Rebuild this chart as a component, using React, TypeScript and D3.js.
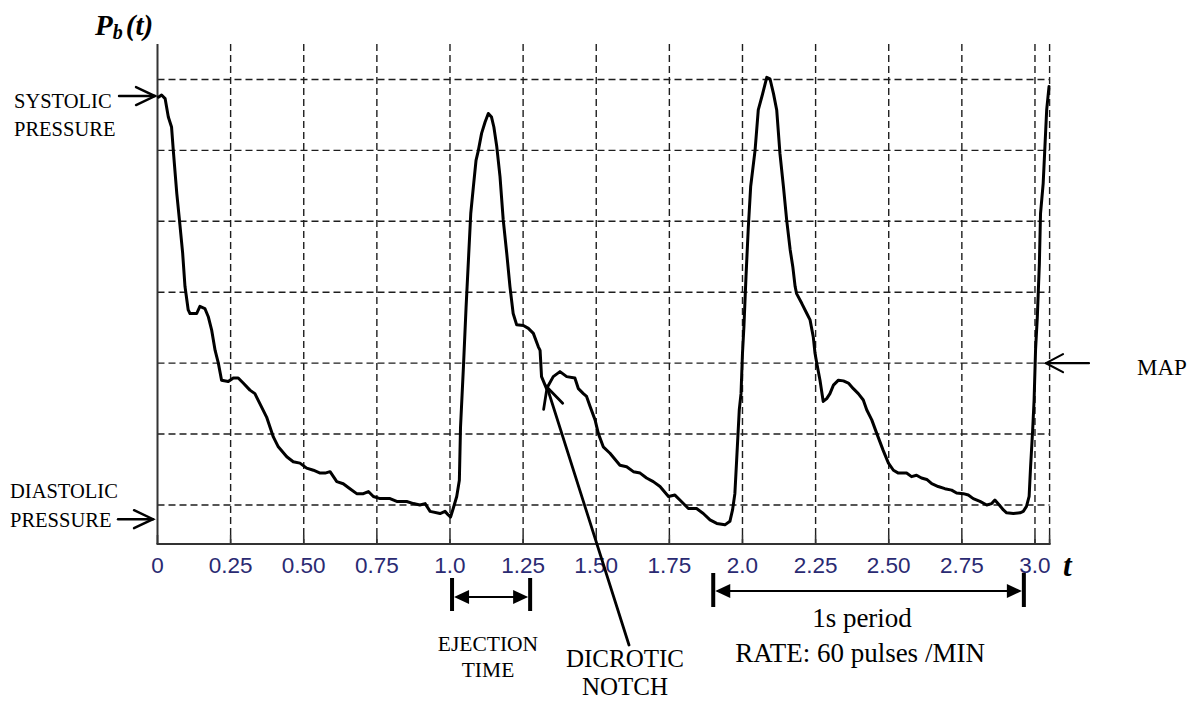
import React from "react";
import * as d3 from "d3";

// ---- data (time in s, pressure in arbitrary mmHg-like units) ----
const timeS: number[] = [
  0.003, 0.014, 0.026, 0.037, 0.048, 0.054, 0.066, 0.075, 0.086, 0.094,
  0.105, 0.111, 0.134, 0.145, 0.162, 0.174, 0.185, 0.197, 0.208, 0.219,
  0.242, 0.259, 0.276, 0.293, 0.316, 0.333, 0.35, 0.373, 0.396, 0.413,
  0.442, 0.464, 0.487, 0.51, 0.533, 0.556, 0.573, 0.59, 0.613, 0.635,
  0.658, 0.681, 0.704, 0.721, 0.738, 0.761, 0.795, 0.818, 0.852, 0.875,
  0.897, 0.915, 0.932, 0.966, 0.983, 0.994, 1.002, 1.011, 1.023, 1.032,
  1.036, 1.046, 1.055, 1.063, 1.071, 1.08, 1.089, 1.097, 1.108, 1.12,
  1.131, 1.142, 1.15, 1.16, 1.171, 1.182, 1.194, 1.205, 1.216, 1.228,
  1.251, 1.268, 1.285, 1.302, 1.308, 1.313, 1.33, 1.353, 1.376, 1.399,
  1.427, 1.439, 1.456, 1.467, 1.479, 1.496, 1.507, 1.524, 1.547, 1.581,
  1.604, 1.627, 1.65, 1.672, 1.695, 1.718, 1.747, 1.769, 1.786, 1.815,
  1.843, 1.866, 1.889, 1.912, 1.94, 1.957, 1.966, 1.974, 1.98, 1.989,
  1.995, 2.0, 2.005, 2.012, 2.02, 2.028, 2.043, 2.054, 2.069, 2.083,
  2.094, 2.106, 2.117, 2.128, 2.14, 2.151, 2.163, 2.172, 2.18, 2.185,
  2.203, 2.22, 2.231, 2.242, 2.248, 2.254, 2.265, 2.276, 2.288, 2.299,
  2.311, 2.328, 2.345, 2.362, 2.379, 2.396, 2.413, 2.425, 2.442, 2.459,
  2.481, 2.499, 2.516, 2.533, 2.561, 2.578, 2.595, 2.612, 2.63, 2.647,
  2.669, 2.692, 2.715, 2.732, 2.755, 2.772, 2.789, 2.812, 2.835, 2.852,
  2.863, 2.878, 2.892, 2.903, 2.926, 2.949, 2.96, 2.971, 2.98, 2.985,
  2.992, 2.997, 3.002, 3.008, 3.015, 3.019, 3.028, 3.034, 3.04, 3.048,
];

const pressure: number[] = [
  127.5, 127.8, 127.3, 124.7, 123.3, 120.0, 113.9, 110.2, 105.5, 100.8,
  97.5, 97.0, 97.0, 98.0, 97.7, 96.5, 94.7, 91.8, 90.0, 87.6,
  87.4, 87.9, 87.9, 87.2, 86.2, 85.7, 84.3, 82.4, 79.6, 78.2,
  76.8, 76.1, 75.9, 75.2, 74.9, 74.5, 74.5, 74.7, 73.3, 73.0,
  72.3, 71.6, 71.6, 71.9, 71.2, 70.9, 70.9, 70.5, 70.5, 70.2,
  70.0, 70.2, 69.1, 68.8, 69.1, 68.6, 68.3, 69.5, 71.2, 73.5,
  81.0, 89.5, 97.9, 104.5, 111.1, 114.9, 118.6, 120.0, 122.4, 124.0,
  125.2, 124.7, 123.3, 120.5, 116.3, 110.2, 105.5, 100.8, 97.0, 95.4,
  95.3, 94.9, 94.2, 92.3, 91.8, 88.1, 86.4, 88.1, 88.8, 88.1,
  87.9, 86.4, 85.7, 85.3, 83.9, 82.0, 80.1, 78.2, 77.3, 75.6,
  75.4, 74.7, 74.5, 73.8, 73.3, 72.6, 71.2, 71.4, 70.7, 69.5,
  69.5, 68.8, 67.9, 67.4, 67.2, 67.7, 69.3, 71.6, 76.3, 83.4,
  85.7, 91.4, 95.2, 102.2, 109.2, 114.9, 120.0, 125.7, 128.0, 130.3,
  130.1, 128.0, 125.7, 119.6, 114.9, 110.2, 106.0, 103.6, 100.8, 99.8,
  98.4, 97.0, 96.1, 93.7, 91.4, 90.0, 87.6, 84.6, 85.0, 85.7,
  86.9, 87.6, 87.5, 87.2, 86.4, 85.7, 84.8, 83.4, 82.0, 80.1,
  77.7, 75.9, 74.9, 74.5, 74.5, 74.0, 74.2, 73.8, 73.6, 73.0,
  72.6, 72.3, 72.1, 71.7, 71.6, 71.4, 70.9, 70.5, 70.0, 70.2,
  70.7, 70.0, 69.3, 68.9, 68.8, 68.9, 69.1, 69.8, 71.2, 75.4,
  80.5, 84.8, 91.9, 96.5, 104.0, 111.1, 115.3, 120.5, 125.7, 129.0,
];

const xTickValues: number[] = [0, 0.25, 0.5, 0.75, 1.0, 1.25, 1.5, 1.75, 2.0, 2.25, 2.5, 2.75, 3.0];
const xTickLabels: string[] = ["0", "0.25", "0.50", "0.75", "1.0", "1.25", "1.50", "1.75", "2.0", "2.25", "2.50", "2.75", "3.0"];
const yGridValues: number[] = [70, 80, 90, 100, 110, 120, 130];

const systolicValue = 127.8;
const diastolicValue = 68.0;
const mapValue = 90;
const ejectionSpan: [number, number] = [1.007, 1.274];
const periodSpan: [number, number] = [1.9, 2.962];
const notchPoint: [number, number] = [1.332, 86.6];

const W = 1201;
const H = 702;

const x = d3.scaleLinear().domain([0, 3.05]).range([157.5, 1049.6]);
const y = d3.scaleLinear().domain([64.5, 135]).range([544, 44]);

const serif = "'Liberation Serif', 'Times New Roman', serif";
const sans = "'Liberation Sans', Arial, sans-serif";

function OpenArrow({ x1, y1, x2, y2, head = 17, spread = 9, width = 2.2 }: any) {
  const ang = Math.atan2(y2 - y1, x2 - x1);
  const bx = x2 - head * Math.cos(ang);
  const by = y2 - head * Math.sin(ang);
  const px = -Math.sin(ang) * spread;
  const py = Math.cos(ang) * spread;
  return (
    <g stroke="#000" strokeWidth={width} fill="none" strokeLinecap="round" strokeLinejoin="miter">
      <line x1={x1} y1={y1} x2={x2} y2={y2} />
      <polyline points={`${bx + px},${by + py} ${x2},${y2} ${bx - px},${by - py}`} />
    </g>
  );
}

function Bracket({ xa, xb, yMid, top, bottom }: any) {
  const head = 15;
  const half = 7;
  return (
    <g>
      <line x1={xa} y1={top} x2={xa} y2={bottom} stroke="#000" strokeWidth={4} />
      <line x1={xb} y1={top} x2={xb} y2={bottom} stroke="#000" strokeWidth={4} />
      <line x1={xa + 4} y1={yMid} x2={xb - 4} y2={yMid} stroke="#000" strokeWidth={2.2} />
      <polygon points={`${xa + 2},${yMid} ${xa + 2 + head},${yMid - half} ${xa + 2 + head},${yMid + half}`} fill="#000" />
      <polygon points={`${xb - 2},${yMid} ${xb - 2 - head},${yMid - half} ${xb - 2 - head},${yMid + half}`} fill="#000" />
    </g>
  );
}

export default function App() {
  const pts: [number, number][] = timeS.map((t, i) => [t, pressure[i]]);
  const line = d3
    .line<[number, number]>()
    .x((d) => x(d[0]))
    .y((d) => y(d[1]));

  const [x0, x1] = x.range();
  const [yb, yt] = y.range();
  const gridColor = "#1e1e1e";

  return (
    <svg
      width={W}
      height={H}
      style={{ position: "absolute", left: 0, top: 0, background: "#fff" }}
      xmlns="http://www.w3.org/2000/svg"
    >
      <rect x={0} y={0} width={W} height={H} fill="#fff" />

      {yGridValues.map((v) => (
        <line key={"h" + v} x1={x0} x2={x1} y1={y(v)} y2={y(v)} stroke={gridColor} strokeWidth={1.4} strokeDasharray="7,4" />
      ))}
      {xTickValues.slice(1).concat([3.05]).map((t) => (
        <line key={"v" + t} x1={x(t)} x2={x(t)} y1={yt} y2={yb} stroke={gridColor} strokeWidth={1.4} strokeDasharray="7,4" />
      ))}

      <line x1={x0} x2={x0} y1={yt} y2={yb} stroke="#333" strokeWidth={2} />
      <line x1={x0 - 1} x2={x1 + 1} y1={yb} y2={yb} stroke="#333" strokeWidth={2} />
      {xTickValues.concat([3.05]).map((t) => (
        <line key={"t" + t} x1={x(t)} x2={x(t)} y1={yb} y2={yb - 9} stroke="#333" strokeWidth={1.6} />
      ))}
      {xTickValues.map((t, i) => (
        <text key={"l" + t} x={x(t)} y={573} textAnchor="middle" fontFamily={sans} fontSize={22.5} fill="#2a2a72">
          {xTickLabels[i]}
        </text>
      ))}

      <path d={line(pts) || ""} fill="none" stroke="#000" strokeWidth={3} strokeLinejoin="round" strokeLinecap="round" />

      <text x={95} y={35} fontFamily={serif} fontWeight="bold" fontStyle="italic" fontSize={29} fill="#000">
        P
        <tspan fontSize={20} dy={4}>b</tspan>
        <tspan dy={-4} dx={3}>(t)</tspan>
      </text>
      <text x={1063} y={576} fontFamily={serif} fontWeight="bold" fontStyle="italic" fontSize={31} fill="#000">
        t
      </text>

      <text fontFamily={serif} fontSize={20.5} fill="#000">
        <tspan x={14} y={108}>SYSTOLIC</tspan>
        <tspan x={14} y={136}>PRESSURE</tspan>
      </text>
      <OpenArrow x1={119} y1={y(systolicValue) + 1} x2={155} y2={y(systolicValue) + 1} head={19} spread={9} width={2.4} />

      <text fontFamily={serif} fontSize={20.5} fill="#000">
        <tspan x={10} y={498}>DIASTOLIC</tspan>
        <tspan x={10} y={527}>PRESSURE</tspan>
      </text>
      <OpenArrow x1={118} y1={y(diastolicValue)} x2={153} y2={y(diastolicValue)} head={19} spread={9} width={2.4} />

      <OpenArrow x1={1089} y1={y(mapValue)} x2={1046} y2={y(mapValue)} head={17} spread={9} width={2.2} />
      <text x={1137} y={375} fontFamily={serif} fontSize={23} fill="#000">MAP</text>

      <Bracket xa={x(ejectionSpan[0])} xb={x(ejectionSpan[1])} yMid={597} top={578} bottom={611} />
      <text fontFamily={serif} fontSize={21.5} fill="#000" textAnchor="middle">
        <tspan x={488} y={651}>EJECTION</tspan>
        <tspan x={488} y={677}>TIME</tspan>
      </text>

      <OpenArrow x1={629} y1={645} x2={x(notchPoint[0])} y2={y(notchPoint[1])} head={20} spread={10} width={2.8} />
      <text fontFamily={serif} fontSize={25} fill="#000" textAnchor="middle">
        <tspan x={625} y={667}>DICROTIC</tspan>
        <tspan x={625} y={695}>NOTCH</tspan>
      </text>

      <Bracket xa={x(periodSpan[0])} xb={x(periodSpan[1])} yMid={591} top={573} bottom={607} />
      <text fontFamily={serif} fontSize={27} fill="#000" textAnchor="middle">
        <tspan x={862} y={627}>1s period</tspan>
        <tspan x={860} y={662}>RATE: 60 pulses /MIN</tspan>
      </text>
    </svg>
  );
}
